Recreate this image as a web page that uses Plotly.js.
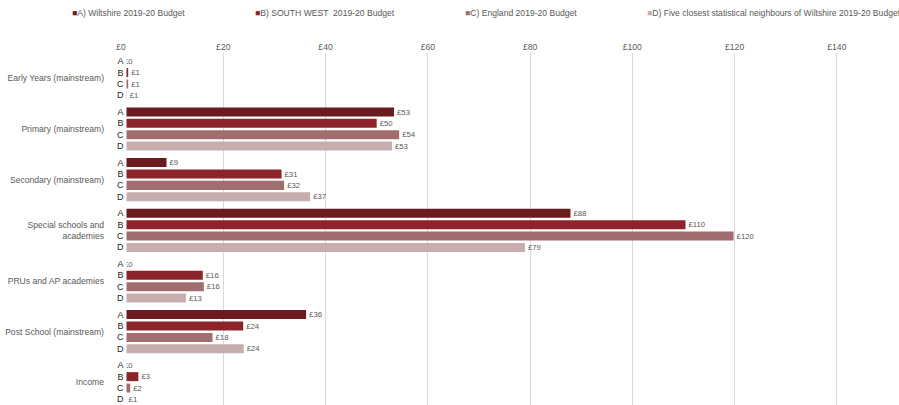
<!DOCTYPE html>
<html>
<head>
<meta charset="utf-8">
<script src="https://cdn.plot.ly/plotly-3.0.1.min.js"></script>
<style>html,body{margin:0;padding:0;background:#fff;}#chart{width:899px;height:405px;}</style>
</head>
<body>
<div id="chart"></div>
<script>
// ---- data ----
const categories = [
  "Early Years (mainstream)",
  "Primary (mainstream)",
  "Secondary (mainstream)",
  "Special schools and<br>academies",
  "PRUs and AP academies",
  "Post School (mainstream)",
  "Income"
];
const seriesNames = [
  "A) Wiltshire 2019-20 Budget",
  "B) SOUTH WEST  2019-20 Budget",
  "C) England 2019-20 Budget",
  "D) Five closest statistical neighbours of Wiltshire 2019-20 Budget"
];
const seriesLetters = ["A", "B", "C", "D"];
const valuesA = [0, 53.4, 8.9, 87.9, 0, 36.2, 0];
const valuesB = [1.4, 50.0, 31.4, 110.4, 16.0, 23.9, 3.4];
const valuesC = [1.4, 54.4, 31.9, 119.8, 16.2, 17.9, 1.8];
const valuesD = [1.1, 53.0, 37.0, 79.0, 12.7, 24.0, 0.9];
const xTicks = [0, 20, 40, 60, 80, 100, 120, 140];
const xTickText = ["£0", "£20", "£40", "£60", "£80", "£100", "£120", "£140"];

// ---- style ----
const colors = ["#6B1B20", "#8D242A", "#A16E6F", "#C8ADAE"];
const FONT = "Liberation Sans, Arial, sans-serif";
const GREY = "#595959";
const FS = 8.6;
const W = 899, H = 405;
const M = {l: 121, r: 11, t: 53, b: 0};
const BARGAP = 0.1;
const yRange = [6.447, -0.5];

const allValues = [valuesA, valuesB, valuesC, valuesD];
const traces = allValues.map((vals, k) => ({
  type: "bar",
  orientation: "h",
  name: seriesNames[k],
  y: categories,
  x: vals,
  marker: {color: colors[k]},
  texttemplate: "£%{x:.0f}",
  textposition: "outside",
  cliponaxis: false,
  textfont: {family: FONT, size: FS, color: GREY},
  hoverinfo: "x+name",
  showlegend: false
}));

// letters A-D beside each bar, positioned from the category axis
const plotH = H - M.t - M.b;
const bandPx = plotH / Math.abs(yRange[0] - yRange[1]);
const slotPx = bandPx * (1 - BARGAP) / 4;
const annotations = [];
categories.forEach(cat => {
  seriesLetters.forEach((L, k) => {
    annotations.push({
      xref: "x", yref: "y", x: 0, y: cat,
      xanchor: "center", yanchor: "middle",
      xshift: -1, yshift: (1.5 - k) * slotPx,
      text: L, showarrow: false, width: 11, height: 10,
      bgcolor: "#ffffff", borderpad: 0,
      font: {family: FONT, size: 9, color: "#1F1F1F"}
    });
  });
});
// legend row
const legendX = [70, 253, 463, 645];
seriesNames.forEach((n, k) => {
  annotations.push({
    xref: "paper", yref: "paper",
    x: (legendX[k] - M.l) / (W - M.l - M.r),
    y: 1 + (M.t - 13) / plotH,
    xanchor: "left", yanchor: "middle",
    text: "<span style='color:" + colors[k] + "'>■</span>" + n,
    showarrow: false,
    font: {family: FONT, size: FS, color: GREY}
  });
});

const layout = {
  width: W, height: H,
  margin: M,
  paper_bgcolor: "#fff", plot_bgcolor: "#fff",
  barmode: "group",
  bargap: BARGAP,
  bargroupgap: 0.21,
  showlegend: false,
  font: {family: FONT, size: FS, color: GREY},
  xaxis: {
    side: "top",
    range: [0, 150],
    tickvals: xTicks,
    ticktext: xTickText,
    showgrid: true,
    gridcolor: "#D9D9D9",
    gridwidth: 1,
    zeroline: false,
    showline: false,
    ticks: "",
    tickfont: {family: FONT, size: FS, color: GREY}
  },
  yaxis: {
    type: "category",
    range: yRange,
    showgrid: false,
    zeroline: false,
    showline: false,
    ticks: "",
    ticklabelstandoff: 16,
    tickfont: {family: FONT, size: FS, color: GREY}
  },
  annotations: annotations
};

Plotly.newPlot("chart", traces, layout, {displayModeBar: false, staticPlot: true});
</script>
</body>
</html>
